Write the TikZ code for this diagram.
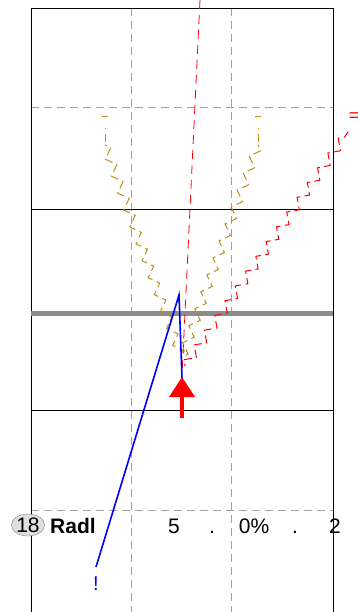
\documentclass[tikz,border=0pt]{standalone}
\usepackage{fontspec}
\setmainfont{Liberation Sans}
\usetikzlibrary{arrows.meta,decorations.pathmorphing,shapes.geometric}
\definecolor{olivez}{HTML}{B8901A}
\definecolor{gridgray}{HTML}{A0A0A0}
\tikzset{
  frameline/.style={black, line width=0.8pt},
  gridline/.style={gridgray, line width=1pt, dash pattern=on 8pt off 5pt},
  zig/.style={decorate, decoration={zigzag, segment length=18pt, amplitude=4.5pt}, line width=1pt, dash pattern=on 8pt off 4.5pt, dash phase=6pt},
  lbl/.style={font=\fontsize{21}{24}\selectfont, inner sep=0pt, anchor=base},
}
\begin{document}
\begin{tikzpicture}[x=1pt,y=-1pt]
\useasboundingbox (0,0) rectangle (358,612);
% grid
\draw[gridline] (131,8) -- (131,612);
\draw[gridline] (231,8) -- (231,612);
\draw[gridline] (31,108) -- (333,108);
\draw[gridline] (31,510) -- (333,510);
% frame
\draw[frameline] (31,612) -- (31,8) -- (333,8) -- (333,612);
\draw[frameline] (31,209) -- (333,209);
\draw[frameline] (31,410) -- (333,410);
\draw[line width=5pt, color=gray!90] (31,313) -- (333,313);
% olive zigzag V
\coordinate (ol1) at (105,117);
\coordinate (ol2) at (105,145);
\coordinate (ob) at (182,358);
\coordinate (or2) at (258,145);
\coordinate (or1) at (258,117);
\draw[olivez, line width=1pt] (102,117) -- (108,117);
\draw[olivez, line width=1pt] (255,117) -- (261,117);
\draw[olivez, line width=1pt, dash pattern=on 1pt off 5pt on 8pt off 20pt] (105,128) -- (ol2);
\draw[olivez, line width=1pt, dash pattern=on 1pt off 5pt on 8pt off 20pt] (258,128) -- (or2);
\draw[olivez, zig] (ol2) -- (ob);
\draw[olivez, zig] (or2) -- (ob);
% red dashed line
\coordinate (rt) at (200,0);
\coordinate (rb) at (182,375);
\draw[red, line width=0.8pt, dash pattern=on 9pt off 6pt] (rt) -- (rb);
% red zigzag
\coordinate (rz1) at (185,366);
\coordinate (rz2) at (348,132);
\draw[red, zig] (rz1) -- (rz2);
\node[red, font=\fontsize{18}{18}\selectfont, inner sep=0pt] (eq) at (354,117) {=};
% blue line
\coordinate (b1) at (96,567);
\coordinate (b2) at (179,295);
\coordinate (b3) at (182,378);
\draw[blue, line width=1.6pt] (b1) -- (b2) -- (b3);
\node[blue, font=\fontsize{20}{20}\selectfont, inner sep=0pt] (bang) at (96,584) {!};
% red arrow
\coordinate (a0) at (182,418);
\coordinate (a1) at (182,377);
\draw[red, line width=4pt, -{Triangle[width=25pt,length=20pt]}] (a0) -- (a1);
% labels
\node[draw=gray, fill=gray!25, ellipse, minimum width=31pt, minimum height=22pt, inner sep=0pt, font=\fontsize{21}{24}\selectfont] (n18) at (28,525) {18};
\node[lbl, font=\fontsize{21}{24}\selectfont\bfseries] (radl) at (73,533) {Radl};
\node[lbl] (v5) at (174,533) {5};
\node[lbl] (d1) at (212,533) {.};
\node[lbl] (v0) at (254,533) {0\%};
\node[lbl] (d2) at (295,533) {.};
\node[lbl] (v2) at (335,533) {2};
\end{tikzpicture}
\end{document}
